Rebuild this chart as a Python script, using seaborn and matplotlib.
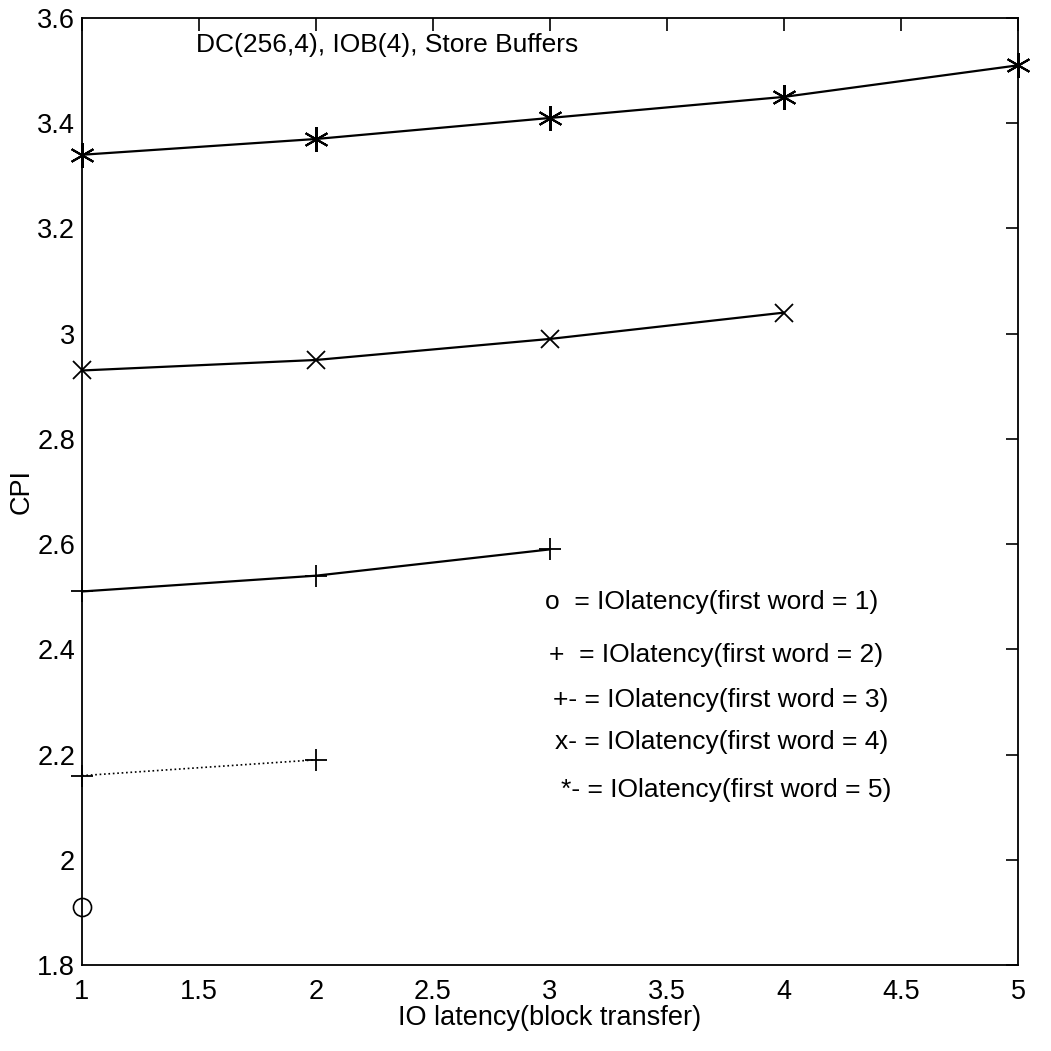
import matplotlib
matplotlib.use('Agg')
import matplotlib.pyplot as plt
import seaborn as sns

# values
lat_fw1 = [1]
cpi_fw1 = [1.91]
lat_fw2 = [1, 2]
cpi_fw2 = [2.16, 2.19]
lat_fw3 = [1, 2, 3]
cpi_fw3 = [2.51, 2.54, 2.59]
lat_fw4 = [1, 2, 3, 4]
cpi_fw4 = [2.93, 2.95, 2.99, 3.04]
lat_fw5 = [1, 2, 3, 4, 5]
cpi_fw5 = [3.34, 3.37, 3.41, 3.45, 3.51]

x_ticks = [1, 1.5, 2, 2.5, 3, 3.5, 4, 4.5, 5]
x_labels = ['1', '1.5', '2', '2.5', '3', '3.5', '4', '4.5', '5']
y_ticks = [1.8, 2, 2.2, 2.4, 2.6, 2.8, 3, 3.2, 3.4, 3.6]
y_labels = ['1.8', '2', '2.2', '2.4', '2.6', '2.8', '3', '3.2', '3.4', '3.6']

legend_lines = [
    'o  = IOlatency(first word = 1)',
    '+  = IOlatency(first word = 2)',
    '+- = IOlatency(first word = 3)',
    'x- = IOlatency(first word = 4)',
    '*- = IOlatency(first word = 5)',
]
leg_x = [2.979, 2.996, 3.013, 3.021, 3.047]
leg_y = [2.490, 2.389, 2.304, 2.224, 2.133]

sns.set_style('white')
plt.rcParams['font.family'] = ['Liberation Sans', 'DejaVu Sans']
plt.rcParams['text.color'] = 'k'
plt.rcParams['axes.labelcolor'] = 'k'

fig = plt.figure(figsize=(10.51, 10.51), dpi=100)
ax = fig.add_axes([0.078, 0.0818, 0.8906, 0.9011])

common = dict(ax=ax, color='k', markeredgecolor='k', clip_on=False)
sns.lineplot(x=lat_fw1, y=cpi_fw1, marker='o', markersize=13, markerfacecolor='none',
             markeredgewidth=1.2, linestyle='none', **common)
sns.lineplot(x=lat_fw2, y=cpi_fw2, linestyle=':', linewidth=1.2,
             marker='+', markersize=16, markeredgewidth=1.3, **common)
sns.lineplot(x=lat_fw3, y=cpi_fw3, linestyle='-', linewidth=1.6,
             marker='+', markersize=16, markeredgewidth=1.3, **common)
sns.lineplot(x=lat_fw4, y=cpi_fw4, linestyle='-', linewidth=1.6,
             marker='x', markersize=13, markeredgewidth=1.3, **common)
sns.lineplot(x=lat_fw5, y=cpi_fw5, linestyle='-', linewidth=1.6,
             marker=(6, 2, 0), markersize=18, markeredgewidth=1.5, **common)

ax.set_xlim(1, 5)
ax.set_ylim(1.8, 3.6)
ax.set_xticks(x_ticks)
ax.set_xticklabels(x_labels)
ax.set_yticks(y_ticks)
ax.set_yticklabels(y_labels)
ax.tick_params(direction='in', top=True, right=True, length=9, width=1.2,
               labelsize=19.5, colors='k')
ax.tick_params(axis='x', pad=10)
ax.tick_params(axis='y', pad=5)
for s in ax.spines.values():
    s.set_color('k')
    s.set_linewidth(1.3)

ax.set_xlabel('IO latency(block transfer)', fontsize=19.5, labelpad=0)
ax.set_ylabel('CPI', fontsize=19.5, labelpad=2)

ax.text(1.487, 3.549, 'DC(256,4), IOB(4), Store Buffers', fontsize=19, va='center', ha='left')

for lx, ly, t in zip(leg_x, leg_y, legend_lines):
    ax.text(lx, ly, t, fontsize=19, va='center', ha='left')

plt.savefig('out.png', dpi=100)
